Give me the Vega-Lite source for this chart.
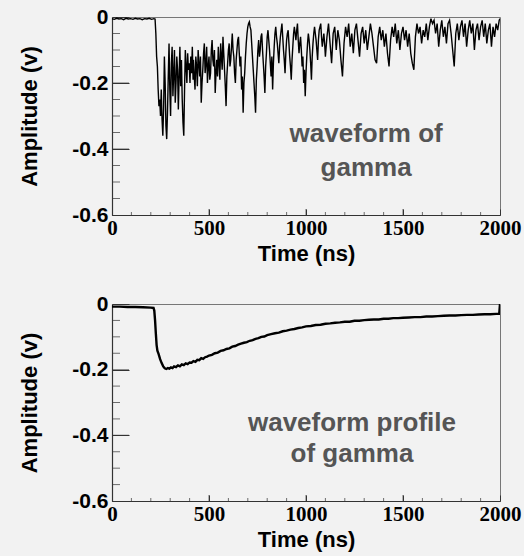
{
  "$schema": "https://vega.github.io/schema/vega-lite/v6.json",
  "background": "#f2f2f2",
  "padding": {"left": 18, "top": 5, "right": 5, "bottom": 5},
  "spacing": 89,
  "bounds": "flush",
  "config": {
    "view": {"stroke": "#777", "strokeWidth": 1},
    "axis": {
      "domainColor": "#333",
      "domainWidth": 1.2,
      "ticks": true,
      "tickColor": "#333",
      "tickWidth": 1,
      "zindex": 1,
      "grid": false,
      "labelOverlap": false,
      "labelFlush": false,
      "labelBound": false,
      "labelColor": "#000",
      "titleColor": "#000",
      "titleFont": "Liberation Sans",
      "titleFontWeight": "bold",
      "titleFontSize": 22
    },
    "axisX": {
      "labelFont": "Liberation Serif",
      "labelFontWeight": "bold",
      "labelFontSize": 21,
      "tickSize": -6,
      "labelPadding": 8,
      "titlePadding": 5
    },
    "axisY": {
      "labelFont": "Liberation Sans",
      "labelFontWeight": "bold",
      "labelFontSize": 21,
      "tickSize": -17,
      "labelPadding": 21,
      "titlePadding": 30
    },
    "tick": {"color": "#333", "thickness": 1}
  },
  "datasets": {
    "wave": [
      {"t": 0, "a": -0.005}, {"t": 12, "a": -0.007}, {"t": 24, "a": -0.004}, {"t": 36, "a": -0.006}, {"t": 48, "a": -0.005}, {"t": 60, "a": -0.008}, {"t": 72, "a": -0.004}, {"t": 84, "a": -0.006}, {"t": 96, "a": -0.005}, {"t": 108, "a": -0.007}, {"t": 120, "a": -0.004}, {"t": 132, "a": -0.006}, {"t": 144, "a": -0.005}, {"t": 156, "a": -0.008}, {"t": 168, "a": -0.005}, {"t": 180, "a": -0.006}, {"t": 192, "a": -0.004}, {"t": 204, "a": -0.007}, {"t": 216, "a": -0.005}, {"t": 222, "a": -0.006},
      {"t": 226, "a": -0.05}, {"t": 230, "a": -0.12}, {"t": 234, "a": -0.15}, {"t": 238, "a": -0.22}, {"t": 242, "a": -0.27}, {"t": 246, "a": -0.25}, {"t": 250, "a": -0.3}, {"t": 254, "a": -0.22}, {"t": 258, "a": -0.31}, {"t": 262, "a": -0.36}, {"t": 266, "a": -0.28}, {"t": 270, "a": -0.12}, {"t": 274, "a": -0.2}, {"t": 278, "a": -0.33}, {"t": 282, "a": -0.37}, {"t": 286, "a": -0.29}, {"t": 290, "a": -0.18}, {"t": 294, "a": -0.08}, {"t": 298, "a": -0.22}, {"t": 302, "a": -0.3}, {"t": 306, "a": -0.14}, {"t": 310, "a": -0.09}, {"t": 314, "a": -0.24}, {"t": 318, "a": -0.17}, {"t": 322, "a": -0.1}, {"t": 326, "a": -0.26}, {"t": 330, "a": -0.2}, {"t": 334, "a": -0.12}, {"t": 338, "a": -0.16}, {"t": 342, "a": -0.28}, {"t": 346, "a": -0.18}, {"t": 350, "a": -0.09}, {"t": 354, "a": -0.21}, {"t": 358, "a": -0.13}, {"t": 362, "a": -0.25}, {"t": 366, "a": -0.32}, {"t": 370, "a": -0.36}, {"t": 374, "a": -0.22}, {"t": 378, "a": -0.1}, {"t": 382, "a": -0.15}, {"t": 386, "a": -0.2}, {"t": 390, "a": -0.11}, {"t": 394, "a": -0.16}, {"t": 398, "a": -0.14}, {"t": 402, "a": -0.2}, {"t": 406, "a": -0.12}, {"t": 410, "a": -0.17}, {"t": 414, "a": -0.09}, {"t": 418, "a": -0.19},
      {"t": 420, "a": -0.13}, {"t": 424, "a": -0.18}, {"t": 428, "a": -0.22}, {"t": 432, "a": -0.12}, {"t": 436, "a": -0.15}, {"t": 440, "a": -0.21}, {"t": 444, "a": -0.1}, {"t": 448, "a": -0.14}, {"t": 452, "a": -0.18}, {"t": 456, "a": -0.12}, {"t": 460, "a": -0.26}, {"t": 464, "a": -0.2}, {"t": 468, "a": -0.16}, {"t": 472, "a": -0.11}, {"t": 476, "a": -0.08}, {"t": 480, "a": -0.17}, {"t": 484, "a": -0.14}, {"t": 488, "a": -0.09}, {"t": 492, "a": -0.2}, {"t": 496, "a": -0.15}, {"t": 500, "a": -0.12}, {"t": 504, "a": -0.19}, {"t": 508, "a": -0.17}, {"t": 512, "a": -0.1}, {"t": 516, "a": -0.07}, {"t": 520, "a": -0.13}, {"t": 524, "a": -0.15}, {"t": 528, "a": -0.1}, {"t": 532, "a": -0.23}, {"t": 536, "a": -0.17}, {"t": 540, "a": -0.13}, {"t": 544, "a": -0.18}, {"t": 548, "a": -0.09}, {"t": 552, "a": -0.14}, {"t": 556, "a": -0.19}, {"t": 560, "a": -0.08}, {"t": 564, "a": -0.12}, {"t": 568, "a": -0.16}, {"t": 572, "a": -0.06}, {"t": 576, "a": -0.11}, {"t": 580, "a": -0.16}, {"t": 584, "a": -0.21}, {"t": 588, "a": -0.27}, {"t": 592, "a": -0.18}, {"t": 596, "a": -0.14}, {"t": 600, "a": -0.1}, {"t": 604, "a": -0.08}, {"t": 608, "a": -0.15}, {"t": 612, "a": -0.13}, {"t": 616, "a": -0.09}, {"t": 620, "a": -0.05}, {"t": 624, "a": -0.1}, {"t": 628, "a": -0.12}, {"t": 632, "a": -0.17}, {"t": 636, "a": -0.2}, {"t": 640, "a": -0.13}, {"t": 644, "a": -0.1}, {"t": 648, "a": -0.07}, {"t": 652, "a": -0.06}, {"t": 656, "a": -0.11}, {"t": 660, "a": -0.15}, {"t": 664, "a": -0.12}, {"t": 668, "a": -0.22}, {"t": 672, "a": -0.18}, {"t": 676, "a": -0.29}, {"t": 680, "a": -0.2}, {"t": 684, "a": -0.17}, {"t": 688, "a": -0.12}, {"t": 692, "a": -0.08}, {"t": 696, "a": -0.05}, {"t": 700, "a": -0.03},
      {"t": 704, "a": -0.02}, {"t": 708, "a": -0.015}, {"t": 712, "a": -0.03}, {"t": 716, "a": -0.04}, {"t": 720, "a": -0.08}, {"t": 724, "a": -0.12}, {"t": 728, "a": -0.16}, {"t": 732, "a": -0.2}, {"t": 736, "a": -0.24}, {"t": 740, "a": -0.29}, {"t": 744, "a": -0.19}, {"t": 748, "a": -0.15}, {"t": 752, "a": -0.1}, {"t": 756, "a": -0.07}, {"t": 760, "a": -0.12}, {"t": 764, "a": -0.1}, {"t": 768, "a": -0.06}, {"t": 772, "a": -0.05}, {"t": 776, "a": -0.1}, {"t": 780, "a": -0.14}, {"t": 784, "a": -0.18}, {"t": 788, "a": -0.23}, {"t": 792, "a": -0.15}, {"t": 796, "a": -0.11}, {"t": 800, "a": -0.06}, {"t": 804, "a": -0.04}, {"t": 808, "a": -0.07}, {"t": 812, "a": -0.1}, {"t": 816, "a": -0.14}, {"t": 820, "a": -0.18}, {"t": 824, "a": -0.12}, {"t": 828, "a": -0.22}, {"t": 832, "a": -0.14}, {"t": 836, "a": -0.09}, {"t": 840, "a": -0.05}, {"t": 844, "a": -0.03}, {"t": 848, "a": -0.06}, {"t": 852, "a": -0.08}, {"t": 856, "a": -0.11}, {"t": 860, "a": -0.14}, {"t": 864, "a": -0.09}, {"t": 868, "a": -0.06}, {"t": 872, "a": -0.04}, {"t": 876, "a": -0.02}, {"t": 880, "a": -0.06}, {"t": 884, "a": -0.1}, {"t": 888, "a": -0.13}, {"t": 892, "a": -0.17}, {"t": 896, "a": -0.11}, {"t": 900, "a": -0.07}, {"t": 904, "a": -0.05}, {"t": 908, "a": -0.04}, {"t": 912, "a": -0.08}, {"t": 916, "a": -0.12}, {"t": 920, "a": -0.15}, {"t": 924, "a": -0.19}, {"t": 928, "a": -0.13}, {"t": 932, "a": -0.09}, {"t": 936, "a": -0.05}, {"t": 940, "a": -0.03}, {"t": 944, "a": -0.05}, {"t": 948, "a": -0.07}, {"t": 952, "a": -0.04}, {"t": 956, "a": -0.02}, {"t": 960, "a": -0.07}, {"t": 964, "a": -0.11}, {"t": 968, "a": -0.08}, {"t": 972, "a": -0.06}, {"t": 976, "a": -0.1}, {"t": 980, "a": -0.15}, {"t": 984, "a": -0.12}, {"t": 988, "a": -0.2}, {"t": 992, "a": -0.16}, {"t": 996, "a": -0.24}, {"t": 1000, "a": -0.17}, {"t": 1004, "a": -0.12}, {"t": 1008, "a": -0.08}, {"t": 1012, "a": -0.05}, {"t": 1016, "a": -0.07}, {"t": 1020, "a": -0.1}, {"t": 1024, "a": -0.14}, {"t": 1028, "a": -0.19}, {"t": 1032, "a": -0.12}, {"t": 1036, "a": -0.08}, {"t": 1040, "a": -0.05}, {"t": 1044, "a": -0.03}, {"t": 1048, "a": -0.05}, {"t": 1052, "a": -0.07}, {"t": 1056, "a": -0.1}, {"t": 1060, "a": -0.13}, {"t": 1064, "a": -0.07}, {"t": 1068, "a": -0.04}, {"t": 1072, "a": -0.03}, {"t": 1076, "a": -0.02}, {"t": 1080, "a": -0.06}, {"t": 1084, "a": -0.09}, {"t": 1088, "a": -0.07}, {"t": 1092, "a": -0.05}, {"t": 1096, "a": -0.08}, {"t": 1100, "a": -0.12},
      {"t": 1108, "a": -0.06}, {"t": 1116, "a": -0.02}, {"t": 1124, "a": -0.08}, {"t": 1132, "a": -0.14}, {"t": 1140, "a": -0.05}, {"t": 1148, "a": -0.03}, {"t": 1156, "a": -0.1}, {"t": 1164, "a": -0.04}, {"t": 1172, "a": -0.07}, {"t": 1180, "a": -0.13}, {"t": 1188, "a": -0.18}, {"t": 1196, "a": -0.08}, {"t": 1204, "a": -0.03}, {"t": 1212, "a": -0.06}, {"t": 1220, "a": -0.02}, {"t": 1228, "a": -0.09}, {"t": 1236, "a": -0.05}, {"t": 1244, "a": -0.11}, {"t": 1252, "a": -0.04}, {"t": 1260, "a": -0.02}, {"t": 1268, "a": -0.07}, {"t": 1276, "a": -0.12}, {"t": 1284, "a": -0.05}, {"t": 1292, "a": -0.03}, {"t": 1300, "a": -0.08}, {"t": 1308, "a": -0.04}, {"t": 1316, "a": -0.1}, {"t": 1324, "a": -0.06}, {"t": 1332, "a": -0.02}, {"t": 1340, "a": -0.05}, {"t": 1348, "a": -0.09}, {"t": 1356, "a": -0.13}, {"t": 1364, "a": -0.14}, {"t": 1372, "a": -0.06}, {"t": 1380, "a": -0.03}, {"t": 1388, "a": -0.07}, {"t": 1396, "a": -0.04}, {"t": 1404, "a": -0.09}, {"t": 1412, "a": -0.05}, {"t": 1420, "a": -0.11}, {"t": 1428, "a": -0.15}, {"t": 1436, "a": -0.07}, {"t": 1444, "a": -0.03}, {"t": 1452, "a": -0.06}, {"t": 1460, "a": -0.02}, {"t": 1468, "a": -0.08}, {"t": 1476, "a": -0.04}, {"t": 1484, "a": -0.1}, {"t": 1492, "a": -0.05}, {"t": 1500, "a": -0.03},
      {"t": 1508, "a": -0.07}, {"t": 1516, "a": -0.04}, {"t": 1524, "a": -0.09}, {"t": 1532, "a": -0.05}, {"t": 1540, "a": -0.11}, {"t": 1548, "a": -0.14}, {"t": 1556, "a": -0.16}, {"t": 1564, "a": -0.06}, {"t": 1572, "a": -0.02}, {"t": 1580, "a": -0.05}, {"t": 1588, "a": -0.03}, {"t": 1596, "a": -0.08}, {"t": 1604, "a": -0.04}, {"t": 1612, "a": -0.06}, {"t": 1620, "a": -0.02}, {"t": 1628, "a": -0.07}, {"t": 1636, "a": -0.03}, {"t": 1644, "a": -0.005}, {"t": 1652, "a": -0.02}, {"t": 1660, "a": -0.01}, {"t": 1668, "a": -0.05}, {"t": 1676, "a": -0.02}, {"t": 1684, "a": -0.09}, {"t": 1692, "a": -0.04}, {"t": 1700, "a": -0.01}, {"t": 1708, "a": -0.06}, {"t": 1716, "a": -0.03}, {"t": 1724, "a": -0.08}, {"t": 1732, "a": -0.02}, {"t": 1740, "a": -0.01}, {"t": 1748, "a": -0.05}, {"t": 1756, "a": -0.1}, {"t": 1764, "a": -0.15}, {"t": 1772, "a": -0.05}, {"t": 1780, "a": -0.02}, {"t": 1788, "a": -0.07}, {"t": 1796, "a": -0.03}, {"t": 1804, "a": -0.01}, {"t": 1812, "a": -0.06}, {"t": 1820, "a": -0.02}, {"t": 1828, "a": -0.09}, {"t": 1836, "a": -0.04}, {"t": 1844, "a": -0.01}, {"t": 1852, "a": -0.05}, {"t": 1860, "a": -0.02}, {"t": 1868, "a": -0.1}, {"t": 1876, "a": -0.04}, {"t": 1884, "a": -0.02}, {"t": 1892, "a": -0.07}, {"t": 1900, "a": -0.03}, {"t": 1908, "a": -0.01}, {"t": 1916, "a": -0.06}, {"t": 1924, "a": -0.02}, {"t": 1932, "a": -0.08}, {"t": 1940, "a": -0.04}, {"t": 1948, "a": -0.02}, {"t": 1956, "a": -0.09}, {"t": 1964, "a": -0.03}, {"t": 1972, "a": -0.06}, {"t": 1980, "a": -0.02}, {"t": 1988, "a": -0.04}, {"t": 1996, "a": -0.01}, {"t": 2000, "a": -0.005}
    ],
    "profile": [
      {"t": 0, "a": -0.008}, {"t": 40, "a": -0.008}, {"t": 80, "a": -0.009}, {"t": 120, "a": -0.009}, {"t": 160, "a": -0.01}, {"t": 200, "a": -0.011}, {"t": 214, "a": -0.012}, {"t": 218, "a": -0.02}, {"t": 222, "a": -0.05}, {"t": 226, "a": -0.09}, {"t": 230, "a": -0.125}, {"t": 234, "a": -0.142}, {"t": 240, "a": -0.152}, {"t": 248, "a": -0.168}, {"t": 256, "a": -0.18}, {"t": 264, "a": -0.19}, {"t": 272, "a": -0.196}, {"t": 280, "a": -0.198}, {"t": 288, "a": -0.195}, {"t": 296, "a": -0.197}, {"t": 304, "a": -0.193}, {"t": 312, "a": -0.195}, {"t": 320, "a": -0.19}, {"t": 330, "a": -0.192}, {"t": 340, "a": -0.187}, {"t": 350, "a": -0.19}, {"t": 360, "a": -0.184}, {"t": 370, "a": -0.186}, {"t": 380, "a": -0.181}, {"t": 390, "a": -0.183}, {"t": 400, "a": -0.178}, {"t": 410, "a": -0.179}, {"t": 420, "a": -0.174}, {"t": 430, "a": -0.176}, {"t": 440, "a": -0.17}, {"t": 450, "a": -0.171}, {"t": 460, "a": -0.165}, {"t": 470, "a": -0.167}, {"t": 480, "a": -0.162}, {"t": 490, "a": -0.16}, {"t": 500, "a": -0.157}, {"t": 515, "a": -0.155}, {"t": 530, "a": -0.15}, {"t": 545, "a": -0.148}, {"t": 560, "a": -0.143}, {"t": 575, "a": -0.141}, {"t": 590, "a": -0.137}, {"t": 605, "a": -0.135}, {"t": 620, "a": -0.13}, {"t": 635, "a": -0.128}, {"t": 650, "a": -0.124}, {"t": 665, "a": -0.121}, {"t": 680, "a": -0.118}, {"t": 695, "a": -0.116}, {"t": 710, "a": -0.112}, {"t": 725, "a": -0.11}, {"t": 740, "a": -0.106}, {"t": 755, "a": -0.104}, {"t": 770, "a": -0.1}, {"t": 785, "a": -0.099}, {"t": 800, "a": -0.095}, {"t": 820, "a": -0.092}, {"t": 840, "a": -0.089}, {"t": 860, "a": -0.087}, {"t": 880, "a": -0.083}, {"t": 900, "a": -0.081}, {"t": 920, "a": -0.078}, {"t": 940, "a": -0.076}, {"t": 960, "a": -0.073}, {"t": 980, "a": -0.071}, {"t": 1000, "a": -0.068}, {"t": 1025, "a": -0.067}, {"t": 1050, "a": -0.064}, {"t": 1075, "a": -0.063}, {"t": 1100, "a": -0.06}, {"t": 1125, "a": -0.059}, {"t": 1150, "a": -0.057}, {"t": 1175, "a": -0.056}, {"t": 1200, "a": -0.054}, {"t": 1225, "a": -0.054}, {"t": 1250, "a": -0.051}, {"t": 1275, "a": -0.051}, {"t": 1300, "a": -0.049}, {"t": 1325, "a": -0.048}, {"t": 1350, "a": -0.047}, {"t": 1375, "a": -0.047}, {"t": 1400, "a": -0.045}, {"t": 1425, "a": -0.045}, {"t": 1450, "a": -0.043}, {"t": 1475, "a": -0.043}, {"t": 1500, "a": -0.042}, {"t": 1530, "a": -0.041}, {"t": 1560, "a": -0.04}, {"t": 1590, "a": -0.04}, {"t": 1620, "a": -0.038}, {"t": 1650, "a": -0.038}, {"t": 1680, "a": -0.037}, {"t": 1710, "a": -0.036}, {"t": 1740, "a": -0.035}, {"t": 1770, "a": -0.035}, {"t": 1800, "a": -0.034}, {"t": 1830, "a": -0.033}, {"t": 1860, "a": -0.033}, {"t": 1890, "a": -0.032}, {"t": 1920, "a": -0.031}, {"t": 1950, "a": -0.031}, {"t": 1980, "a": -0.03}, {"t": 1996, "a": -0.03}, {"t": 2000, "a": 0}
    ],
    "xminor": [{"v": 100}, {"v": 200}, {"v": 300}, {"v": 400}, {"v": 600}, {"v": 700}, {"v": 800}, {"v": 900}, {"v": 1100}, {"v": 1200}, {"v": 1300}, {"v": 1400}, {"v": 1600}, {"v": 1700}, {"v": 1800}, {"v": 1900}],
    "xmajor": [{"v": 500}, {"v": 1000}, {"v": 1500}],
    "yminor": [{"v": -0.05}, {"v": -0.1}, {"v": -0.15}, {"v": -0.25}, {"v": -0.3}, {"v": -0.35}, {"v": -0.45}, {"v": -0.5}, {"v": -0.55}],
    "ymajor": [{"v": -0.2}, {"v": -0.4}],
    "note1": [{"t": 1310, "a": -0.355, "label": "waveform of\ngamma"}],
    "note2": [{"t": 1237, "a": -0.362, "label": "waveform profile\nof gamma"}]
  },
  "vconcat": [
    {
      "width": 388,
      "height": 198,
      "view": {"stroke": "#777", "strokeWidth": 1},
      "encoding": {
        "x": {
          "type": "quantitative",
          "scale": {"domain": [0, 2000], "nice": false, "zero": false},
          "axis": {"title": "Time (ns)", "values": [0, 500, 1000, 1500, 2000], "format": "d"}
        },
        "y": {
          "type": "quantitative",
          "scale": {"domain": [-0.6, 0], "nice": false, "zero": false},
          "axis": {
            "title": "Amplitude (v)",
            "values": [0, -0.2, -0.4, -0.6],
            "labelExpr": "datum.value === 0 ? '0' : '-' + format(abs(datum.value), '.1f')"
          }
        }
      },
      "layer": [
        {
          "data": {"name": "xminor"},
          "mark": {"type": "tick", "orient": "vertical", "size": 6, "clip": true},
          "encoding": {"x": {"field": "v"}, "y": {"datum": -0.6}}
        },
        {
          "data": {"name": "xmajor"},
          "mark": {"type": "tick", "orient": "vertical", "size": 12, "clip": true},
          "encoding": {"x": {"field": "v"}, "y": {"datum": -0.6}}
        },
        {
          "data": {"name": "yminor"},
          "mark": {"type": "tick", "orient": "horizontal", "size": 16, "clip": true},
          "encoding": {"y": {"field": "v"}, "x": {"datum": 0}}
        },
        {
          "data": {"name": "ymajor"},
          "mark": {"type": "tick", "orient": "horizontal", "size": 34, "clip": true},
          "encoding": {"y": {"field": "v"}, "x": {"datum": 0}}
        },
        {
          "data": {"name": "wave"},
          "mark": {"type": "line", "color": "#000", "strokeWidth": 1.4, "clip": true},
          "encoding": {"x": {"field": "t"}, "y": {"field": "a"}}
        },
        {
          "data": {"name": "note1"},
          "mark": {"type": "text", "font": "Liberation Sans", "fontWeight": "bold", "fontSize": 26, "color": "#555", "align": "center", "baseline": "middle", "lineBreak": "\n", "lineHeight": 34},
          "encoding": {"x": {"field": "t"}, "y": {"field": "a"}, "text": {"field": "label"}}
        }
      ]
    },
    {
      "width": 388,
      "height": 197,
      "view": {"stroke": "#777", "strokeWidth": 1},
      "encoding": {
        "x": {
          "type": "quantitative",
          "scale": {"domain": [0, 2000], "nice": false, "zero": false},
          "axis": {"title": "Time (ns)", "values": [0, 500, 1000, 1500, 2000], "format": "d"}
        },
        "y": {
          "type": "quantitative",
          "scale": {"domain": [-0.6, 0], "nice": false, "zero": false},
          "axis": {
            "title": "Amplitude (v)",
            "values": [0, -0.2, -0.4, -0.6],
            "labelExpr": "datum.value === 0 ? '0' : '-' + format(abs(datum.value), '.1f')"
          }
        }
      },
      "layer": [
        {
          "data": {"name": "xminor"},
          "mark": {"type": "tick", "orient": "vertical", "size": 6, "clip": true},
          "encoding": {"x": {"field": "v"}, "y": {"datum": -0.6}}
        },
        {
          "data": {"name": "xmajor"},
          "mark": {"type": "tick", "orient": "vertical", "size": 12, "clip": true},
          "encoding": {"x": {"field": "v"}, "y": {"datum": -0.6}}
        },
        {
          "data": {"name": "yminor"},
          "mark": {"type": "tick", "orient": "horizontal", "size": 16, "clip": true},
          "encoding": {"y": {"field": "v"}, "x": {"datum": 0}}
        },
        {
          "data": {"name": "ymajor"},
          "mark": {"type": "tick", "orient": "horizontal", "size": 34, "clip": true},
          "encoding": {"y": {"field": "v"}, "x": {"datum": 0}}
        },
        {
          "data": {"name": "profile"},
          "mark": {"type": "line", "color": "#000", "strokeWidth": 2.4, "clip": true},
          "encoding": {"x": {"field": "t"}, "y": {"field": "a"}}
        },
        {
          "data": {"name": "note2"},
          "mark": {"type": "text", "font": "Liberation Sans", "fontWeight": "bold", "fontSize": 26, "color": "#555", "align": "center", "baseline": "middle", "lineBreak": "\n", "lineHeight": 31},
          "encoding": {"x": {"field": "t"}, "y": {"field": "a"}, "text": {"field": "label"}}
        }
      ]
    }
  ]
}
